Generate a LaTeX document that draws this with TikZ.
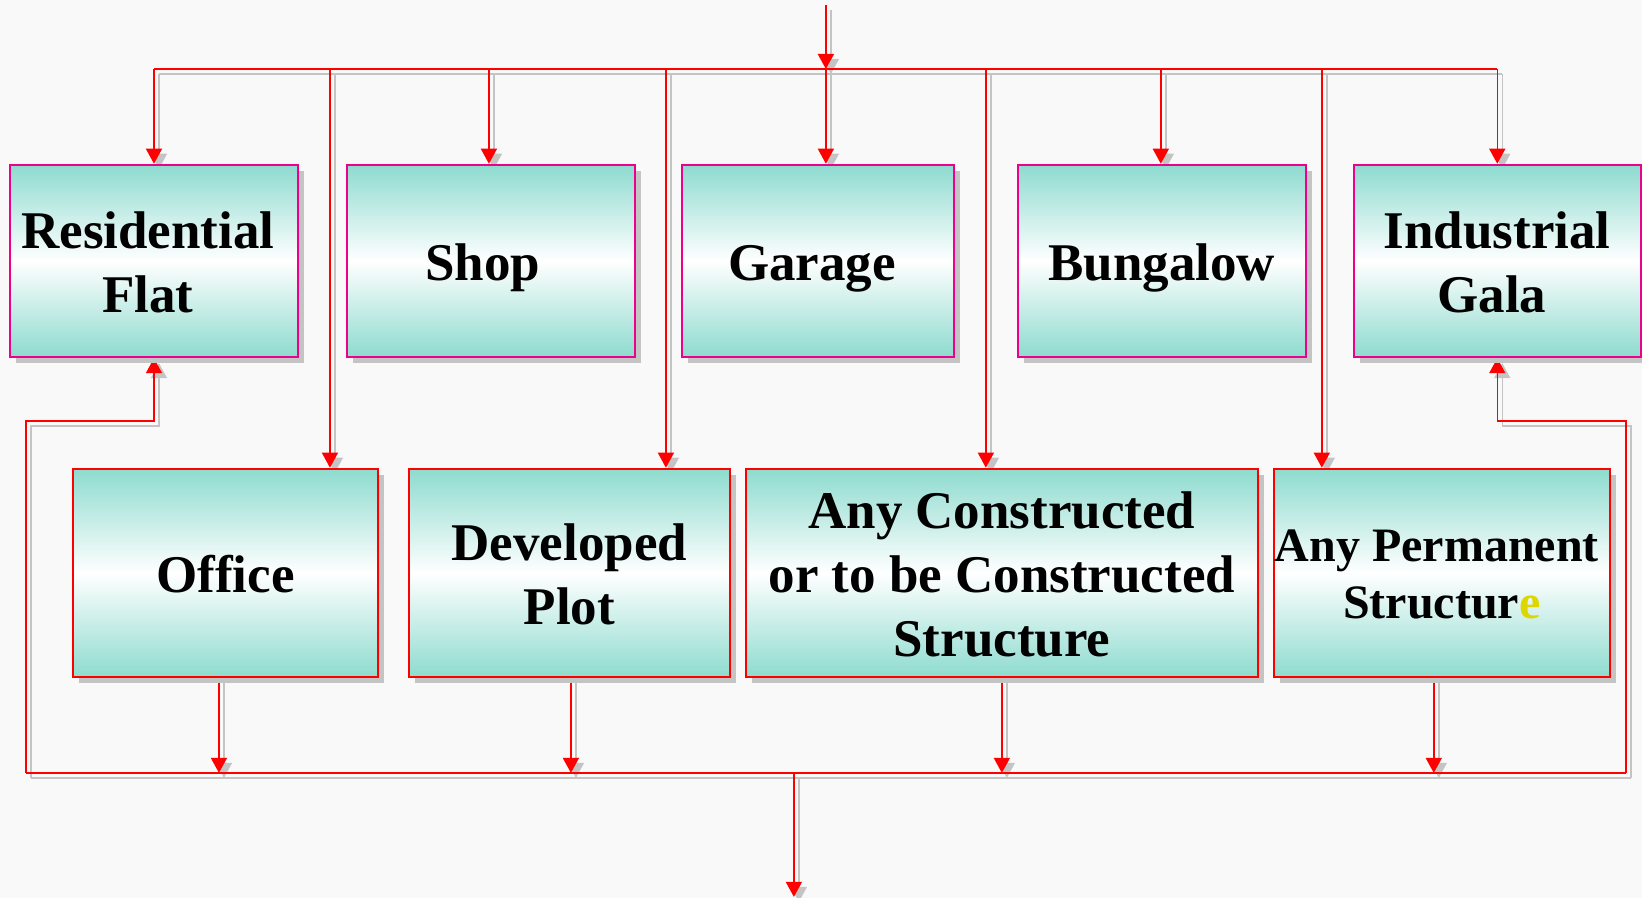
\documentclass[tikz,border=0pt]{standalone}
\usepackage{fontspec}
\setmainfont{Liberation Serif}
\usetikzlibrary{arrows.meta,shadows}
\definecolor{tealc}{RGB}{142,219,207}
\definecolor{bgc}{RGB}{249,249,249}
\definecolor{shd}{RGB}{196,196,196}
\definecolor{yel}{RGB}{222,214,0}
\pgfdeclarelayer{back}
\pgfsetlayers{back,main}
\newcommand\hst[1][50pt]{\rule{0pt}{#1}}
\newcommand\dst{\rule[-10pt]{0pt}{10pt}}
\newcommand\allconns[1]{%
  \draw[arr,#1] (src) -- (tb);
  \draw[conn,#1] (tbL) -- (tbR);
  \draw[arr,#1] (tbL) -- (res.north);
  \draw[arr,#1] (xOff |- tb) -- (xOff |- off.north);
  \draw[arr,#1] (xShop |- tb) -- (xShop |- shop.north);
  \draw[arr,#1] (xDev |- tb) -- (xDev |- dev.north);
  \draw[arr,#1] (tb) -- (tb |- gar.north);
  \draw[arr,#1] (xAnyc |- tb) -- (xAnyc |- anyc.north);
  \draw[arr,#1] (xBung |- tb) -- (xBung |- bung.north);
  \draw[arr,#1] (xPerm |- tb) -- (xPerm |- perm.north);
  \draw[arr,#1] (tbR) -- (tbR |- ind.north);
  \draw[conn,#1] (bbL) -- (bbR);
  \draw[arr,#1] (yOff |- off.south) -- (yOff |- bb);
  \draw[arr,#1] (yDev |- dev.south) -- (yDev |- bb);
  \draw[arr,#1] (yAnyc |- anyc.south) -- (yAnyc |- bb);
  \draw[arr,#1] (yPerm |- perm.south) -- (yPerm |- bb);
  \draw[arr,#1] (bb) -- (outp);
  \draw[arr,#1] (bbL) |- (loopy -| res.south) -- (res.south);
  \draw[arr,#1] (bbR) |- (loopy -| ind.south) -- (ind.south);
}
\begin{document}
\begin{tikzpicture}[x=1pt,y=-1pt,
  box/.style={rectangle, line width=2.5pt, inner sep=0pt, align=center,
    top color=tealc, bottom color=tealc, middle color=white,
    minimum height=192pt,
    font=\bfseries\fontsize{53}{64}\selectfont,
    drop shadow={shadow xshift=6pt, shadow yshift=-6pt, fill=shd, opacity=1}},
  topbox/.style={box, draw=magenta},
  botbox/.style={box, draw=red, minimum height=208pt},
  conn/.style={line width=1.5pt},
  arr/.style={conn, -{Triangle[width=16pt,length=15pt]}},
]
% top row
\node[topbox, minimum width=288pt] (res)  at (154,261)   {\hst Residential\hspace*{12pt}\\Flat\hspace*{12pt}\dst};
\node[topbox, minimum width=288pt] (shop) at (491,261)   {\hst\dst Shop\hspace*{16pt}};
\node[topbox, minimum width=272pt] (gar)  at (818,261)   {\hst\dst Garage\hspace*{12pt}};
\node[topbox, minimum width=288pt] (bung) at (1162,261)  {\hst\dst Bungalow};
\node[topbox, minimum width=287pt] (ind)  at (1497.5,261){\hst Industrial\\Gala\hspace*{11pt}\dst};
% bottom row
\node[botbox, minimum width=305pt] (off)  at (225.5,573) {\hst\dst Office};
\node[botbox, minimum width=321pt] (dev)  at (569.5,573) {\hst Developed\\Plot\dst};
\node[botbox, minimum width=512pt] (anyc) at (1002,573)  {\hst Any Constructed\\or to be Constructed\hspace*{12pt}\\Structure\dst};
\node[botbox, minimum width=336pt, font=\bfseries\fontsize{48}{57}\selectfont] (perm) at (1442,573)
  {\hst[45pt]Any Permanent\hspace*{10pt}\\Structur{\color{yel}e}\dst};
% coordinates
\coordinate (src) at (826,5);
\coordinate (tb) at (826,69);
\coordinate (tbL) at (154,69);
\coordinate (tbR) at (1497.5,69);
\coordinate (xOff) at (330,0);
\coordinate (xShop) at (489,0);
\coordinate (xDev) at (666,0);
\coordinate (xAnyc) at (986,0);
\coordinate (xBung) at (1161,0);
\coordinate (xPerm) at (1322,0);
\coordinate (bb) at (794,773);
\coordinate (outp) at (794,897);
\coordinate (bbL) at (26,773);
\coordinate (bbR) at (1626,773);
\coordinate (loopy) at (0,421);
\coordinate (yOff) at (219,0);
\coordinate (yDev) at (571,0);
\coordinate (yAnyc) at (1002,0);
\coordinate (yPerm) at (1434,0);
\begin{pgfonlayer}{back}
  \fill[bgc] (0,0) rectangle (1642,898);
  \begin{scope}[transform canvas={xshift=5pt,yshift=-5pt}]
    \allconns{shd}
  \end{scope}
  \allconns{red}
\end{pgfonlayer}
\useasboundingbox (0,0) rectangle (1642,898);
\end{tikzpicture}
\end{document}
